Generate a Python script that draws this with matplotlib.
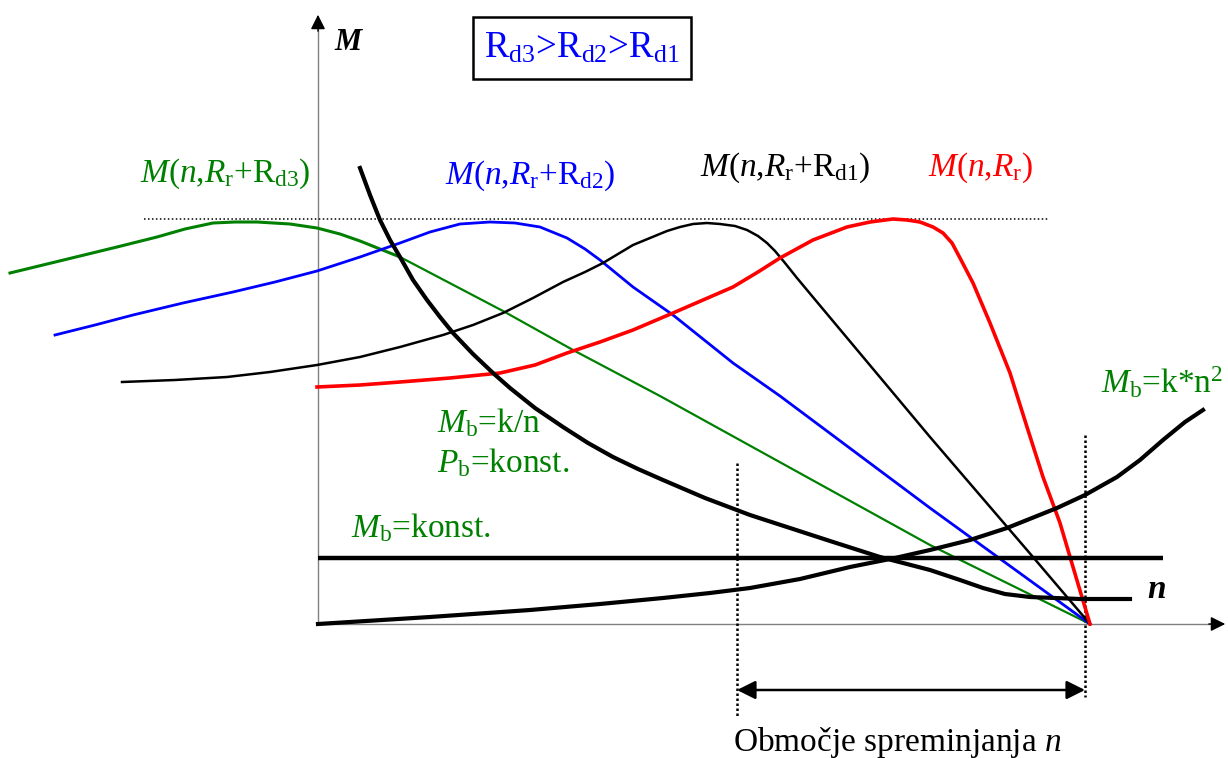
import matplotlib
matplotlib.use('Agg')
import matplotlib.pyplot as plt
from matplotlib.patches import Rectangle

plt.rcParams['font.family'] = ['Liberation Serif', 'DejaVu Serif']
plt.rcParams['mathtext.fontset'] = 'custom'
plt.rcParams['mathtext.rm'] = 'Liberation Serif'
plt.rcParams['mathtext.it'] = 'Liberation Serif:italic'
plt.rcParams['mathtext.bf'] = 'Liberation Serif:bold'

# ---- data (n = speed, M = torque; arbitrary units, origin at axes crossing) ----
n_rd3 = [-308, -275, -238, -201, -161, -133, -105, -83, -61, -28, -1, 22, 42, 62, 82,
         185, 255, 342, 612, 772]
M_rd3 = [351, 359, 368, 377, 387, 395, 401, 402, 402, 400, 396, 390, 383, 375, 367,
         313, 274, 228, 79, 0]

n_rd2 = [-263, -223, -185, -135, -85, -43, -1, 42, 82, 112, 142, 172, 197, 222, 249, 267,
         282, 315, 355, 415, 462, 612, 772]
M_rd2 = [289, 299, 309, 321, 332, 342, 353, 367, 381, 392, 400, 402, 401, 397, 386, 375,
         364, 337, 309, 261, 228, 116, 0]

n_rd1 = [-196, -143, -91, -48, -1, 42, 82, 125, 155, 185, 215, 245, 267, 285, 315, 332,
         349, 362, 375, 389, 402, 417, 429, 440, 449, 457, 467, 479, 494, 612, 709, 772]
M_rd1 = [242, 244, 247, 252, 259, 267, 277, 289, 299, 311, 326, 342, 352, 361, 379, 386,
         393, 397, 400, 401, 400, 398, 394, 388, 381, 373, 361, 346, 328, 187, 74, 0]

n_rr = [-1, 42, 82, 132, 182, 217, 249, 282, 315, 355, 385, 415, 440, 462, 495, 529, 552,
        575, 589, 602, 615, 625, 634, 642, 655, 672, 692, 709, 725, 742, 755, 772]
M_rr = [237, 239, 242, 246, 251, 259, 271, 282, 294, 311, 324, 337, 352, 366, 384, 397, 402,
        405, 404, 402, 397, 391, 381, 366, 341, 301, 251, 197, 147, 101, 57, 0]

n_kn = [42, 52, 62, 72, 82, 95, 109, 122, 135, 155, 175, 192, 217, 245, 270, 295, 320, 345,
        387, 432, 472, 512, 562, 612, 642, 665, 687, 712, 762, 812]
M_kn = [456, 429, 404, 384, 367, 344, 324, 307, 291, 270, 251, 236, 216, 197, 181, 167, 155,
        144, 126, 109, 96, 83, 67, 54, 44, 36, 30, 27, 25, 25]

n_kn2 = [0, 112, 212, 282, 345, 392, 432, 482, 532, 577, 612, 652, 689, 739, 767, 799, 822,
         845, 867, 885]
M_kn2 = [0, 7, 14, 20, 26, 31, 36, 45, 57, 66, 74, 84, 96, 116, 129, 147, 164, 184, 202, 214]

n_const = [0, 845]
M_const = [66, 66]

M_max = 405            # maximum (pull-out) torque level
n_max_line = [-174, 730]
n_range = [419, 767]   # range of speed variation

GREEN = '#008000'
BLUE = '#0000FF'
RED = '#FF0000'

fig = plt.figure(figsize=(12.28, 7.58), dpi=100)
ax = fig.add_axes([0, 0, 1, 1])
ax.set_xlim(-318, 910)
ax.set_ylim(-134, 624)
ax.axis('off')

# axes
ax.plot([0, 0], [0, 605], color='#808080', lw=1.0, zorder=1)
ax.plot([0, 900], [0, 0], color='#808080', lw=1.0, zorder=1)
ax.annotate('', xy=(0, 612), xytext=(0, 590),
            arrowprops=dict(arrowstyle='-|>', color='black', lw=1, mutation_scale=22), zorder=5)
ax.annotate('', xy=(910, 0), xytext=(888, 0),
            arrowprops=dict(arrowstyle='-|>', color='black', lw=1, mutation_scale=22), zorder=5)

# max torque dotted line
ax.plot(n_max_line, [M_max, M_max], color='black', lw=1.1, ls=(0, (1, 1.6)), zorder=2)

# torque curves
k = 14
ax.plot(n_rd3[:k + 1], M_rd3[:k + 1], color=GREEN, lw=2.2, zorder=3)
ax.plot(n_rd3[k:], M_rd3[k:], color=GREEN, lw=1.6, zorder=3)
ax.plot(n_rd2, M_rd2, color=BLUE, lw=2.0, zorder=3)
ax.plot(n_rd1, M_rd1, color='black', lw=1.8, zorder=3)
ax.plot(n_rr, M_rr, color=RED, lw=2.6, zorder=3)

# load curves
ax.plot(n_kn, M_kn, color='black', lw=3.0, zorder=4)
ax.plot(n_const, M_const, color='black', lw=3.2, zorder=4, solid_capstyle='butt')
ax.plot(n_kn2, M_kn2, color='black', lw=3.0, zorder=4)

# range markers
ax.plot([n_range[0]] * 2, [161, -94], color='black', lw=1.8, ls=(0, (1, 1)), zorder=2)
ax.plot([n_range[1]] * 2, [189, -73], color='black', lw=1.8, ls=(0, (1, 1)), zorder=2)
ax.annotate('', xy=(n_range[1], -66), xytext=(n_range[0], -66),
            arrowprops=dict(arrowstyle='<|-|>', color='black', lw=1.8,
                            mutation_scale=28, shrinkA=0, shrinkB=0))

fs = 24
# labels
ax.text(30, 582, 'M', fontsize=22, fontstyle='italic', fontweight='bold',
        ha='center', va='center')
ax.text(839, 34, 'n', fontsize=24, fontstyle='italic', fontweight='bold',
        ha='center', va='center')

ax.add_patch(Rectangle((155, 545), 218, 62, fill=False, edgecolor='black', lw=1.8, zorder=5))
ax.text(264, 576, r'R$_\mathrm{d3}$>R$_\mathrm{d2}$>R$_\mathrm{d1}$', color=BLUE, fontsize=26.5,
        ha='center', va='center')

ax.text(-178, 442, r'$M$($n$,$R_\mathrm{r}$+R$_\mathrm{d3}$)', color=GREEN, fontsize=fs,
        ha='left', va='baseline')
ax.text(127, 440, r'$M$($n$,$R_\mathrm{r}$+R$_\mathrm{d2}$)', color=BLUE, fontsize=fs,
        ha='left', va='baseline')
ax.text(382, 448, r'$M$($n$,$R_\mathrm{r}$+R$_\mathrm{d1}$)', color='black', fontsize=fs,
        ha='left', va='baseline')
ax.text(610, 448, r'$M$($n$,$R_\mathrm{r}$)', color=RED, fontsize=fs,
        ha='left', va='baseline')

ax.text(119, 192, r'$M_\mathrm{b}$=k/n', color=GREEN, fontsize=fs, ha='left', va='baseline')
ax.text(119, 152, r'$P_\mathrm{b}$=konst.', color=GREEN, fontsize=fs, ha='left', va='baseline')
ax.text(33, 87, r'$M_\mathrm{b}$=konst.', color=GREEN, fontsize=fs, ha='left', va='baseline')
ax.text(783, 231, r'$M_\mathrm{b}$=k*n$^2$', color=GREEN, fontsize=fs, ha='left', va='baseline')

ax.text(579, -127, r'Območje spreminjanja $n$', color='black', fontsize=fs,
        ha='center', va='baseline')

fig.savefig('out.png', dpi=100)
